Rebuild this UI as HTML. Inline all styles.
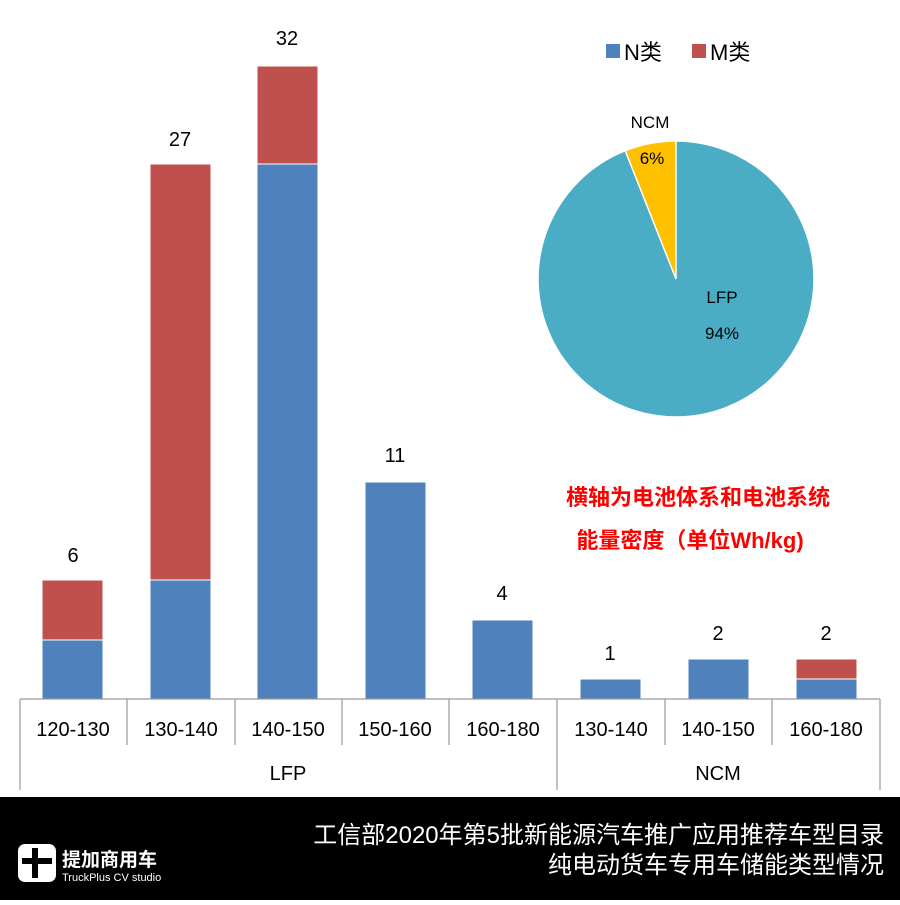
<!DOCTYPE html>
<html><head><meta charset="utf-8"><style>
body{margin:0;width:900px;height:900px;background:#fff;overflow:hidden;font-family:"Liberation Sans","Noto Sans CJK SC",sans-serif;}
</style></head><body>
<svg width="900" height="900" xmlns="http://www.w3.org/2000/svg" font-family="Liberation Sans, Noto Sans CJK SC, sans-serif">
<g stroke="#fff" stroke-width="1">
<rect x="42" y="640" width="61" height="59" fill="#4F81BD"/><rect x="42" y="580" width="61" height="60" fill="#C0504D"/>
<rect x="150" y="580" width="61" height="119" fill="#4F81BD"/><rect x="150" y="164" width="61" height="416" fill="#C0504D"/>
<rect x="257" y="164" width="61" height="535" fill="#4F81BD"/><rect x="257" y="66" width="61" height="98" fill="#C0504D"/>
<rect x="365" y="482" width="61" height="217" fill="#4F81BD"/>
<rect x="472" y="620" width="61" height="79" fill="#4F81BD"/>
<rect x="580" y="679" width="61" height="20" fill="#4F81BD"/>
<rect x="688" y="659" width="61" height="40" fill="#4F81BD"/>
<rect x="796" y="679" width="61" height="20" fill="#4F81BD"/><rect x="796" y="659" width="61" height="20" fill="#C0504D"/>
</g>
<g stroke="#999" stroke-width="1.2">
<line x1="20" y1="699" x2="880" y2="699"/>
<line x1="20" y1="699" x2="20" y2="790"/><line x1="557" y1="699" x2="557" y2="790"/><line x1="880" y1="699" x2="880" y2="790"/>
<line x1="127" y1="699" x2="127" y2="745"/><line x1="235" y1="699" x2="235" y2="745"/><line x1="342" y1="699" x2="342" y2="745"/><line x1="449" y1="699" x2="449" y2="745"/><line x1="665" y1="699" x2="665" y2="745"/><line x1="772" y1="699" x2="772" y2="745"/>
</g>
<g font-size="20" fill="#000" text-anchor="middle">
<text x="73" y="562">6</text><text x="180" y="146">27</text><text x="287" y="45">32</text><text x="395" y="462">11</text><text x="502" y="600">4</text><text x="610" y="660">1</text><text x="718" y="640">2</text><text x="826" y="640">2</text>
<text x="73" y="736">120-130</text><text x="181" y="736">130-140</text><text x="288" y="736">140-150</text><text x="395" y="736">150-160</text><text x="503" y="736">160-180</text><text x="611" y="736">130-140</text><text x="718" y="736">140-150</text><text x="826" y="736">160-180</text>
<text x="288" y="780">LFP</text><text x="718" y="780">NCM</text>
</g>
<rect x="606" y="44" width="14" height="14" fill="#4F81BD"/><text x="624" y="60" font-size="22">N类</text>
<rect x="692" y="44" width="14" height="14" fill="#C0504D"/><text x="710" y="60" font-size="22">M类</text>
<circle cx="676" cy="279" r="138" fill="#4BACC6" stroke="#fff" stroke-width="1.5"/>
<path d="M676,279 L676,141 A138,138 0 0 0 625.2,150.7 Z" fill="#FFC000" stroke="#fff" stroke-width="1.5"/>
<text x="650" y="128" font-size="17" text-anchor="middle">NCM</text>
<text x="652" y="164" font-size="17" text-anchor="middle">6%</text>
<text x="722" y="303" font-size="17" text-anchor="middle">LFP</text>
<text x="722" y="339" font-size="17" text-anchor="middle">94%</text>
<text x="698" y="505" font-size="22" font-weight="bold" fill="#FF0000" text-anchor="middle">横轴为电池体系和电池系统</text>
<text x="690" y="548" font-size="22" font-weight="bold" fill="#FF0000" text-anchor="middle">能量密度（单位Wh/kg)</text>
<rect x="0" y="797" width="900" height="103" fill="#000"/>
<text x="884" y="843" font-size="24" fill="#fff" text-anchor="end">工信部2020年第5批新能源汽车推广应用推荐车型目录</text>
<text x="884" y="873" font-size="24" fill="#fff" text-anchor="end">纯电动货车专用车储能类型情况</text>
<rect x="18" y="844" width="38" height="38" rx="7" fill="#fff"/>
<rect x="32" y="848" width="6" height="30" fill="#000"/><rect x="22" y="858" width="30" height="6" fill="#000"/>
<text x="62" y="866" font-size="19" font-weight="bold" fill="#fff">提加商用车</text>
<text x="62" y="881" font-size="11" fill="#fff">TruckPlus CV studio</text>
</svg>
</body></html>
